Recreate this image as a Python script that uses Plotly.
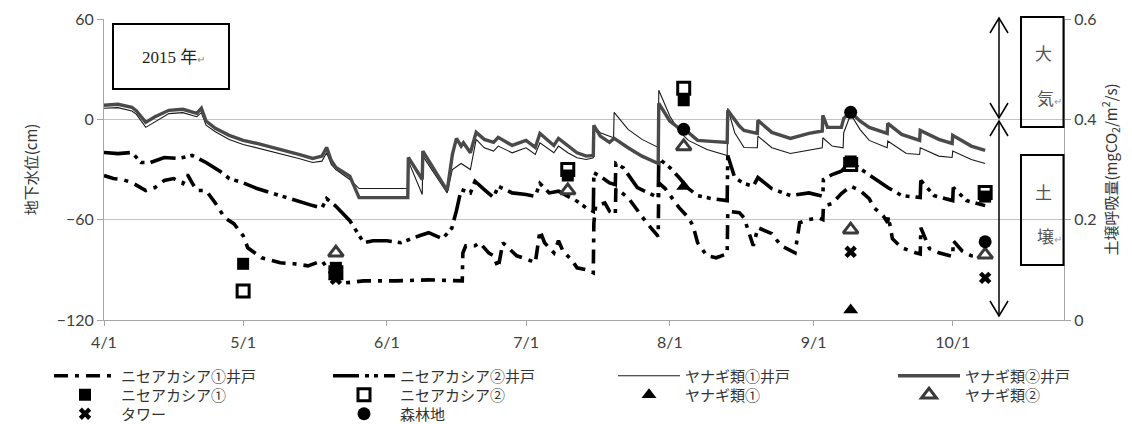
import pandas as pd
import plotly.graph_objects as go

YEAR = "2015-"

# ---- groundwater level (cm), left axis ----
n1_well_t = ["04-01", "04-03", "04-05", "04-07", "04-10", "04-12", "04-14", "04-16", "04-18", "04-19",
             "04-20", "04-21", "04-23", "04-25", "04-27", "04-29", "05-01", "05-02", "05-05", "05-09",
             "05-12", "05-15", "05-18", "05-20", "05-23", "05-27", "06-03", "06-10", "06-17 06:00",
             "06-17 09:00", "06-18", "06-20", "06-21", "06-23", "06-24", "06-25", "06-26", "06-28",
             "06-29", "07-01", "07-03", "07-04", "07-05", "07-07", "07-08", "07-09", "07-11", "07-12",
             "07-14", "07-15 12:00", "07-15 15:00", "07-16", "07-18", "07-19", "07-20 06:00",
             "07-20 09:00", "07-21", "07-23", "07-25", "07-27", "07-29 12:00", "07-29 15:00", "07-31",
             "08-03", "08-05", "08-06", "08-07", "08-09", "08-11", "08-13 09:00", "08-13 12:00",
             "08-16", "08-17", "08-18", "08-19", "08-20", "08-23", "08-25", "08-28", "08-29", "08-31",
             "09-02", "09-03", "09-03 03:00", "09-05", "09-07", "09-09", "09-11", "09-13", "09-14",
             "09-16", "09-17", "09-17 03:00", "09-18", "09-19", "09-20", "09-23", "09-24",
             "09-24 03:00", "09-26", "09-28", "09-30", "10-01", "10-01 03:00", "10-03", "10-05", "10-08"]
n1_well_v = [-33.6, -35.4, -36.0, -37.8, -42.6, -40.8, -36.6, -35.4, -38.4, -33.0,
             -38.0, -42.6, -42.6, -50.0, -58.8, -62.4, -69.6, -76.8, -82.8, -85.8,
             -86.4, -87.6, -84.6, -92.4, -97.8, -96.6, -96.6, -96.0, -96.6,
             -80.0, -75.6, -75.6, -73.8, -80.0, -81.6, -88.8, -73.8, -78.6,
             -81.6, -83.4, -85.8, -66.6, -73.8, -79.8, -72.6, -79.0, -84.6, -88.8,
             -90.0, -91.8, -62.0, -52.0, -50.0, -55.0, -57.0,
             -41.4, -42.5, -46.8, -54.6, -61.8, -70.0, -38.0, -41.4,
             -52.8, -58.8, -63.6, -73.8, -81.6, -82.8, -80.4, -55.0,
             -55.8, -58.8, -67.8, -75.6, -64.8, -68.4, -75.6, -79.8, -61.8, -60.0,
             -58.8, -60.0, -52.0, -50.4, -44.4, -40.0, -42.6, -47.4, -52.8,
             -57.6, -61.8, -58.0, -71.4, -73.8, -76.8, -79.8, -80.5,
             -64.8, -77.4, -79.8, -81.6, -82.0, -72.6, -78.6, -81.6, -81.6]

n2_well_t = ["04-01", "04-04", "04-07", "04-09", "04-11", "04-14", "04-17", "04-20", "04-23", "04-26",
             "04-28", "05-01", "05-04", "05-07", "05-10", "05-13", "05-16", "05-18", "05-19", "05-21",
             "05-24", "05-27", "05-29", "06-01", "06-04", "06-08", "06-10", "06-13", "06-15", "06-16",
             "06-17", "06-19", "06-20", "06-22", "06-24", "06-25", "06-28", "07-01", "07-03", "07-04",
             "07-06", "07-08", "07-10", "07-12", "07-14", "07-15 12:00", "07-15 15:00", "07-17",
             "07-19", "07-20 06:00", "07-20 09:00", "07-22", "07-25", "07-29 12:00", "07-29 15:00",
             "08-01", "08-03", "08-05", "08-07", "08-10", "08-13 09:00", "08-13 12:00", "08-15",
             "08-17", "08-19", "08-20", "08-23", "08-27", "08-31", "09-03", "09-03 03:00", "09-05",
             "09-07", "09-09", "09-11", "09-14", "09-17", "09-20", "09-24", "09-24 03:00", "09-27",
             "10-01", "10-01 03:00", "10-04", "10-08"]
n2_well_v = [-19.8, -20.5, -19.8, -25.8, -25.8, -22.8, -23.4, -21.6, -25.8, -31.0,
             -35.4, -38.0, -41.4, -44.0, -46.8, -49.0, -51.6, -53.0, -47.4, -52.0,
             -60.6, -73.8, -72.6, -72.6, -73.8, -69.6, -67.8, -71.4, -65.0, -54.6,
             -42.0, -44.0, -37.0, -42.0, -46.8, -40.0, -44.0, -45.0, -46.0, -38.4,
             -44.0, -43.0, -46.0, -49.0, -53.0, -55.0, -32.0, -34.0,
             -38.0, -39.0, -26.4, -29.0, -40.8, -46.8, -23.4,
             -28.8, -34.8, -41.4, -45.6, -47.4, -48.6, -21.6, -34.8,
             -38.4, -40.0, -34.8, -41.4, -45.6, -44.0, -46.0, -36.0, -33.0,
             -31.0, -25.0, -29.4, -35.4, -40.8, -45.6, -46.8, -36.6, -45.6,
             -48.6, -40.8, -48.6, -51.6]

y1_well_t = ["04-01", "04-04", "04-07", "04-08", "04-10", "04-12", "04-15", "04-18", "04-21", "04-22",
             "04-23", "04-25", "04-28", "05-01", "05-04", "05-07", "05-10", "05-13", "05-16", "05-18",
             "05-19", "05-20", "05-21", "05-24", "05-26", "06-05 12:00", "06-05 15:00", "06-08 15:00",
             "06-08 18:00", "06-14", "06-15 03:00", "06-17", "06-19", "06-20 06:00", "06-22", "06-24",
             "06-25", "06-28", "07-01", "07-03", "07-04", "07-07", "07-08", "07-10", "07-12", "07-14",
             "07-15 12:00", "07-15 15:00", "07-17", "07-19 21:00", "07-20", "07-23", "07-26",
             "07-29 12:00", "07-29 15:00", "08-01", "08-03", "08-05", "08-09", "08-13 09:00",
             "08-13 12:00", "08-15", "08-17", "08-19 21:00", "08-20", "08-23", "08-27", "08-31",
             "09-02 21:00", "09-03", "09-05", "09-07 09:00", "09-07 12:00", "09-09", "09-11", "09-13",
             "09-16 21:00", "09-17", "09-21", "09-23 21:00", "09-24", "09-28", "09-30 21:00", "10-01",
             "10-05", "10-08"]
y1_well_v = [6.6, 7.0, 5.0, 3.0, -4.8, -1.5, 3.4, 4.0, 1.6, 4.0,
             -3.5, -7.4, -12.0, -15.0, -17.0, -19.0, -21.0, -23.4, -25.8, -25.0,
             -20.0, -27.0, -30.0, -36.0, -41.4, -41.4, -25.0, -45.0,
             -22.0, -44.0, -30.0, -26.4, -30.0, -12.0, -17.0, -19.0,
             -16.0, -20.0, -17.0, -21.0, -14.0, -20.0, -16.0, -20.0, -23.0, -24.0,
             -23.0, -4.0, -8.0, -11.0, 4.2, -6.0, -12.0,
             -16.8, 17.4, 2.0, -7.0, -12.6, -18.0, -21.6,
             6.6, -8.0, -16.8, -17.0, -10.0, -17.0, -20.4, -18.6,
             -17.0, -11.0, -16.0, -17.0, -8.0, 3.0, -6.0, -12.6,
             -17.0, -13.0, -20.4, -21.0, -17.0, -22.0, -22.8, -19.0,
             -24.0, -26.4]

y2_well_t = ["04-01", "04-04", "04-07", "04-08", "04-10", "04-12", "04-15", "04-18", "04-21", "04-22",
             "04-23", "04-25", "04-28", "05-01", "05-04", "05-07", "05-10", "05-13", "05-16", "05-18",
             "05-19", "05-20", "05-21", "05-24", "05-26", "06-05 12:00", "06-05 15:00", "06-08 15:00",
             "06-08 18:00", "06-14", "06-15 03:00", "06-16", "06-17", "06-17 12:00", "06-19",
             "06-20 06:00", "06-22", "06-24", "06-25", "06-28", "07-01", "07-03", "07-04", "07-07",
             "07-08", "07-10", "07-12", "07-14", "07-15 12:00", "07-15 15:00", "07-17", "07-19",
             "07-20", "07-23", "07-26", "07-29 12:00", "07-29 15:00", "08-01", "08-03", "08-05",
             "08-07", "08-10", "08-13 09:00", "08-13 12:00", "08-16", "08-17", "08-19 21:00",
             "08-20", "08-23", "08-27", "08-31", "09-02 21:00", "09-03", "09-04", "09-07",
             "09-07 12:00", "09-09", "09-11", "09-13", "09-16 21:00", "09-17", "09-20",
             "09-23 21:00", "09-24", "09-28", "09-30 21:00", "10-01", "10-05", "10-08"]
y2_well_v = [8.4, 9.0, 7.2, 5.0, -1.8, 1.5, 5.4, 6.0, 3.6, 6.6,
             -1.0, -5.4, -9.6, -12.6, -14.4, -16.5, -18.6, -21.0, -23.4, -22.0,
             -16.8, -24.6, -28.8, -34.0, -46.8, -46.8, -22.8, -36.0,
             -19.0, -42.6, -21.0, -11.4, -16.0, -14.0, -20.0,
             -7.8, -12.0, -13.8, -10.8, -15.6, -12.6, -16.8, -8.4, -15.6,
             -11.4, -16.0, -20.0, -22.0, -21.6, -3.6, -10.0, -13.8,
             -11.4, -17.0, -22.0, -26.4, 9.6, -1.0, -5.4, -7.8,
             -12.6, -13.2, -13.8, 5.4, -4.0, -6.6, -8.4,
             -0.6, -7.8, -11.4, -8.4, -7.0, 2.4, -4.8, -4.8,
             0.6, 4.2, -1.0, -4.8, -8.4, -2.4, -9.0,
             -12.6, -6.6, -12.0, -14.4, -9.6, -16.0, -18.6]

# ---- soil respiration (mgCO2/m2/s), right axis ----
n1_resp_t = ["05-01", "05-21", "07-10", "08-04", "09-09", "10-08"]
n1_resp_v = [0.112, 0.104, 0.288, 0.438, 0.316, 0.246]
n2_resp_t = ["05-01", "05-21", "07-10", "08-04", "09-09", "10-08"]
n2_resp_v = [0.058, 0.094, 0.300, 0.462, 0.310, 0.254]
y1_resp_t = ["05-21", "08-04", "09-09"]
y1_resp_v = [0.086, 0.266, 0.020]
y2_resp_t = ["05-21", "07-10", "08-04", "09-09", "10-08"]
y2_resp_v = [0.134, 0.258, 0.346, 0.180, 0.130]
tower_t = ["05-21", "09-09", "10-08"]
tower_v = [0.082, 0.136, 0.084]
forest_t = ["05-21", "08-04", "09-09", "10-08"]
forest_v = [0.098, 0.380, 0.414, 0.156]

x_ticks = ["04-01", "05-01", "06-01", "07-01", "08-01", "09-01", "10-01"]


def ts(days):
    return pd.to_datetime([YEAR + d for d in days], format="mixed")


def px_x(X):
    return (X - 104) / 960.0


def px_y(Y):
    return (320 - Y) / 301.0


JP = "Noto Sans CJK JP"
LAT = "Lato, 'Noto Sans CJK JP'"

fig = go.Figure()

# well water level lines
fig.add_trace(go.Scatter(x=ts(n1_well_t), y=n1_well_v, mode="lines", name="ニセアカシア①井戸",
                         line=dict(color="#000000", width=3.6, dash="14px,7px,4px,7px"),
                         legend="legend"))
fig.add_trace(go.Scatter(x=ts(n2_well_t), y=n2_well_v, mode="lines", name="ニセアカシア②井戸",
                         line=dict(color="#000000", width=3.6, dash="26px,6px,4px,5px,4px,6px"),
                         legend="legend2"))
fig.add_trace(go.Scatter(x=ts(y1_well_t), y=y1_well_v, mode="lines", name="ヤナギ類①井戸",
                         line=dict(color="#1a1a1a", width=1.1), legend="legend3"))
fig.add_trace(go.Scatter(x=ts(y2_well_t), y=y2_well_v, mode="lines", name="ヤナギ類②井戸",
                         line=dict(color="#4a4a4a", width=3.4), legend="legend4"))

# soil respiration markers
fig.add_trace(go.Scatter(x=ts(n2_resp_t), y=n2_resp_v, mode="markers", name="ニセアカシア②",
                         yaxis="y2", legend="legend6",
                         marker=dict(symbol="square", size=12, color="#ffffff",
                                     line=dict(color="#000000", width=3))))
fig.add_trace(go.Scatter(x=ts(n1_resp_t), y=n1_resp_v, mode="markers", name="ニセアカシア①",
                         yaxis="y2", legend="legend5",
                         marker=dict(symbol="square", size=12, color="#000000")))
fig.add_trace(go.Scatter(x=ts(y1_resp_t), y=y1_resp_v, mode="markers", name="ヤナギ類①",
                         yaxis="y2", legend="legend7",
                         marker=dict(symbol="triangle-up", size=13, color="#000000")))
fig.add_trace(go.Scatter(x=ts(y2_resp_t), y=y2_resp_v, mode="markers", name="ヤナギ類②",
                         yaxis="y2", legend="legend8",
                         marker=dict(symbol="triangle-up", size=13, color="#ffffff",
                                     line=dict(color="#3a3a3a", width=3))))
fig.add_trace(go.Scatter(x=ts(tower_t), y=tower_v, mode="markers", name="タワー",
                         yaxis="y2", legend="legend9",
                         marker=dict(symbol="x", size=11, color="#000000")))
fig.add_trace(go.Scatter(x=ts(forest_t), y=forest_v, mode="markers", name="森林地",
                         yaxis="y2", legend="legend10",
                         marker=dict(symbol="circle", size=13, color="#000000")))

shapes = []
# text boxes
for x0, y0, x1, y1 in [(113, 24, 229, 89), (1021, 17, 1063.5, 127), (1021, 155, 1063.5, 265)]:
    shapes.append(dict(type="rect", xref="paper", yref="paper",
                       x0=px_x(x0), x1=px_x(x1), y0=px_y(y1), y1=px_y(y0),
                       line=dict(color="#000000", width=2), fillcolor="rgba(0,0,0,0)"))
# double-headed arrows (atmosphere / soil)
ax = 999
for top, bot in [(18, 118), (121, 316)]:
    shapes.append(dict(type="line", xref="paper", yref="paper",
                       x0=px_x(ax), x1=px_x(ax), y0=px_y(top), y1=px_y(bot),
                       line=dict(color="#000000", width=1.5)))
    for tip, arm in [(top, top + 15), (bot, bot - 15)]:
        path = "M {a},{b} L {c},{d} L {e},{b}".format(
            a=px_x(ax - 9), b=px_y(arm), c=px_x(ax), d=px_y(tip), e=px_x(ax + 9))
        shapes.append(dict(type="path", xref="paper", yref="paper", path=path,
                           line=dict(color="#000000", width=1.5)))

annotations = [
    dict(xref="paper", yref="paper", x=px_x(173), y=px_y(57), xanchor="center", yanchor="middle",
         showarrow=False, text="2015 年<span style='font-size:10px;color:#888'>↵</span>",
         font=dict(family="'Liberation Serif', 'Noto Sans CJK JP'", size=17, color="#222222")),
]
# box labels; the ones carrying a return mark share the left edge of the plain ones
for ch, yy, mark in [("大", 52, False), ("気", 97, True), ("土", 191, False), ("壌", 236, True)]:
    text = ch + ("<span style='font-size:10px;color:#999'>↵</span>" if mark else "")
    annotations.append(dict(xref="paper", yref="paper",
                            x=px_x(1035) if mark else px_x(1043), y=px_y(yy),
                            xanchor="left" if mark else "center", yanchor="middle",
                            showarrow=False, text=text,
                            font=dict(family=JP, size=17, color="#555555")))

# one legend per entry, laid out as a 4-column grid under the axis
ITEM_W = 62
col_text_x = [123, 402, 687, 967]
row_y = [376, 395, 414]
legend_slots = {
    "legend": (0, 0), "legend2": (1, 0), "legend3": (2, 0), "legend4": (3, 0),
    "legend5": (0, 1), "legend6": (1, 1), "legend7": (2, 1), "legend8": (3, 1),
    "legend9": (0, 2), "legend10": (1, 2),
}
legend_layout = {}
for key, (c, r) in legend_slots.items():
    legend_layout[key] = dict(
        x=px_x(col_text_x[c] - ITEM_W - 12), y=px_y(row_y[r]),
        xanchor="left", yanchor="middle", orientation="v",
        itemwidth=ITEM_W, bgcolor="rgba(0,0,0,0)", borderwidth=0,
        font=dict(family=JP, size=15, color="#333333"))

fig.update_layout(
    width=1132, height=424, autosize=False,
    margin=dict(l=104, r=68, t=19, b=104, autoexpand=False),
    paper_bgcolor="#ffffff", plot_bgcolor="#ffffff",
    showlegend=True,
    xaxis=dict(type="date", range=["2015-04-01", "2015-10-25"],
               tickvals=ts(x_ticks), tickformat="%-m/%-d",
               showgrid=False, showline=True, linecolor="#a6a6a6", linewidth=1,
               ticks="outside", ticklen=5, tickcolor="#a6a6a6", ticklabelstandoff=3,
               tickfont=dict(family=LAT, size=16, color="#404040"), zeroline=False),
    yaxis=dict(range=[-120, 60], dtick=60, showgrid=True, gridcolor="#c4c4c4", gridwidth=1,
               showline=True, linecolor="#a6a6a6", linewidth=1, zeroline=False,
               ticks="outside", ticklen=6, tickcolor="#a6a6a6",
               tickfont=dict(family=LAT, size=16, color="#404040"),
               title=dict(text="地下水位(cm)", standoff=15,
                          font=dict(family=JP, size=15, color="#333333"))),
    yaxis2=dict(range=[0, 0.6], dtick=0.2, overlaying="y", side="right", showgrid=False,
                showline=True, linecolor="#a6a6a6", linewidth=1, zeroline=False,
                ticks="outside", ticklen=6, tickcolor="#a6a6a6",
                tickfont=dict(family=LAT, size=16, color="#404040"),
                title=dict(text="土壌呼吸量(mgCO<sub>2</sub>/m<sup>2</sup>/s)", standoff=10,
                           font=dict(family=JP, size=15, color="#333333"))),
    shapes=shapes,
    annotations=annotations,
    **legend_layout,
)

fig.write_html("out.html")
